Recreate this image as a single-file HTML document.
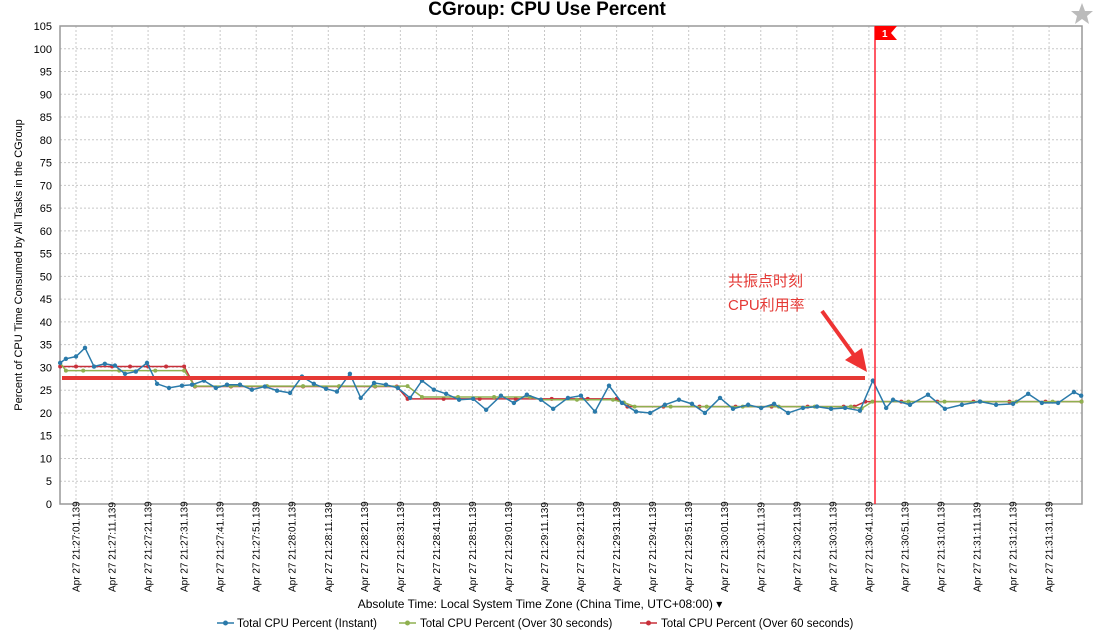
<!DOCTYPE html>
<html><head><meta charset="utf-8"><style>
body{margin:0;background:#fff;width:1098px;height:637px;overflow:hidden;font-family:"Liberation Sans","Noto Sans CJK SC",sans-serif}
</style></head><body>
<svg id="c" width="1098" height="637" xmlns="http://www.w3.org/2000/svg">
<text x="547" y="15" text-anchor="middle" font-size="19" font-weight="bold" font-family="Liberation Sans, sans-serif">CGroup: CPU Use Percent</text>
<polygon points="1082,3 1085,11 1093,11 1087,16 1089,24 1082,19 1075,24 1077,16 1071,11 1079,11" fill="#bbb"/>
<g id="grid"></g>
<rect x="60" y="26" width="1022" height="478" fill="none" stroke="#999" stroke-width="1.5"/>
<g id="yt"></g><g id="xt"></g><g id="series"></g>
<text transform="translate(22,265) rotate(-90)" text-anchor="middle" font-size="11">Percent of CPU Time Consumed by All Tasks in the CGroup</text>
<text x="540" y="608" text-anchor="middle" font-size="12">Absolute Time: Local System Time Zone (China Time, UTC+08:00) ▾</text>
<g font-size="11.5">
<g><line x1="217" y1="623" x2="234" y2="623" stroke="#2a7aaa" stroke-width="1.5"/><circle cx="225.5" cy="623" r="2.5" fill="#2a7aaa"/><text x="237" y="627">Total CPU Percent (Instant)</text></g>
<g><line x1="399" y1="623" x2="416" y2="623" stroke="#8fb050" stroke-width="1.5"/><circle cx="407.5" cy="623" r="2.5" fill="#8fb050"/><text x="420" y="627">Total CPU Percent (Over 30 seconds)</text></g>
<g><line x1="640" y1="623" x2="657" y2="623" stroke="#c8303a" stroke-width="1.5"/><circle cx="648.5" cy="623" r="2.5" fill="#c8303a"/><text x="661" y="627">Total CPU Percent (Over 60 seconds)</text></g>
</g>
<line x1="62" y1="378" x2="865" y2="378" stroke="#e53935" stroke-width="4"/>
<line x1="875" y1="26" x2="875" y2="504" stroke="#f23" stroke-width="1.5"/>
<polygon points="875,26 897,26 891,33 897,40 875,40" fill="#f00"/>
<text x="882" y="37" font-size="10" font-weight="bold" fill="#fff">1</text>
<line x1="822" y1="311" x2="856" y2="358" stroke="#ee3333" stroke-width="4"/>
<polygon points="867,372 845,360 862,348" fill="#ee3333"/>
<text x="728" y="286" font-size="15" fill="#e53935">共振点时刻</text>
<text x="728" y="310" font-size="15" fill="#e53935">CPU利用率</text>
</svg>
<script>
const yTicks=[0,5,10,15,20,25,30,35,40,45,50,55,60,65,70,75,80,85,90,95,100,105];
const xTickSec=[0,10,20,30,40,50,60,70,80,90,100,110,120,130,140,150,160,170,180,190,200,210,220,230,240,250,260,270];
const xTickLabels=["21:27:01","21:27:11","21:27:21","21:27:31","21:27:41","21:27:51","21:28:01","21:28:11","21:28:21","21:28:31","21:28:41","21:28:51","21:29:01","21:29:11","21:29:21","21:29:31","21:29:41","21:29:51","21:30:01","21:30:11","21:30:21","21:30:31","21:30:41","21:30:51","21:31:01","21:31:11","21:31:21","21:31:31"];
const instT=[-4.4,-2.8,0,2.5,5,8,10.8,13.6,16.6,19.7,22.5,25.8,29.4,32.2,35.5,38.8,41.9,45.5,48.8,52.4,55.8,59.4,62.7,66,69.4,72.4,76,79,82.7,86,89.3,92.7,96,99.3,102.7,106.3,110.2,113.8,117.9,121.5,125.1,129,132.4,136.5,140.1,144,147.9,151.5,155.4,159.3,163.4,167.3,170.9,174.5,178.7,182.3,186.5,190.1,193.7,197.6,201.7,205.6,209.5,213.4,217.5,221.1,224.8,226.7,231.4,236.4,241.1,245.8,250.8,255.3,260,264.2,268,272.5,276.9,278.9];
const instV=[31.0,31.9,32.4,34.3,30.2,30.8,30.4,28.6,29.1,31.0,26.4,25.5,26.0,26.2,27.1,25.5,26.2,26.2,25.1,25.8,24.9,24.4,28.0,26.4,25.3,24.7,28.6,23.3,26.6,26.2,25.5,23.3,27.1,25.1,24.2,22.9,23.1,20.7,23.8,22.2,24.0,22.9,20.9,23.3,23.8,20.3,26.0,22.2,20.3,20.0,21.8,22.9,22.0,20.0,23.3,20.9,21.8,21.1,22.0,20.0,21.1,21.4,20.9,21.1,20.5,27.1,21.1,22.9,21.8,24.0,20.9,21.8,22.5,21.8,22.0,24.2,22.2,22.2,24.6,23.8];
const g30T=[-4.4,-2.8,2,12,22,30,33,43,53,63,73,83,92,96,106,116,126,129,139,149,152,155,165,175,185,195,205,215,218,221,231,241,251,261,271,279];
const g30V=[31.0,29.3,29.3,29.3,29.3,29.3,25.9,25.9,25.9,25.9,25.9,25.9,25.9,23.5,23.5,23.5,23.5,22.9,22.9,22.9,22.3,21.4,21.4,21.4,21.4,21.4,21.4,21.4,21.0,22.5,22.5,22.5,22.5,22.5,22.5,22.5];
const r60T=[-4.4,0,5,10,15,20,25,30,33,43,53,63,73,83,89,92,102,112,122,132,142,150,153,163,173,183,193,203,213,216,219,229,239,249,259,269,279];
const r60V=[30.2,30.2,30.2,30.2,30.2,30.2,30.2,30.2,25.8,25.8,25.8,25.8,25.8,25.8,25.8,23.1,23.1,23.1,23.1,23.1,23.1,23.1,21.4,21.4,21.4,21.4,21.4,21.4,21.4,21.4,22.5,22.5,22.5,22.5,22.5,22.5,22.5];
const NS="http://www.w3.org/2000/svg";
const yS=v=>504-v*(478/105);
const xS=t=>76+t*3.604;
function mk(tag,at,parent){const e=document.createElementNS(NS,tag);for(const k in at)e.setAttribute(k,at[k]);parent.appendChild(e);return e;}
const grid=document.getElementById('grid'),yt=document.getElementById('yt'),xt=document.getElementById('xt'),se=document.getElementById('series');
yTicks.forEach(v=>{
 if(v>0&&v<105){const l=mk('line',{x1:60,x2:1082,y1:yS(v),y2:yS(v),stroke:'#c8c8c8','stroke-dasharray':'2,2'},grid);
 
 }
 const t=mk('text',{x:52,y:yS(v)+4,'text-anchor':'end','font-size':11},yt);t.textContent=v;
 
 
});
xTickSec.forEach((s,i)=>{
 const x=xS(s);
 const l=mk('line',{x1:x,x2:x,y1:26,y2:504,stroke:'#c8c8c8','stroke-dasharray':'2,2'},grid);
 
 
 const t=mk('text',{transform:`translate(${x+3.5},592) rotate(-90)`,'font-size':10},xt);
 t.textContent='Apr 27 '+xTickLabels[i]+'.139';
 
 
});
function series(T,V,col,name,r){
 const pl=mk('polyline',{points:T.map((t,i)=>xS(t)+','+yS(V[i])).join(' '),fill:'none',stroke:col,'stroke-width':1.5},se);
 
 
 T.forEach((t,i)=>{const c=mk('circle',{cx:xS(t),cy:yS(V[i]),r:r,fill:col},se);
 
 });
}
series(r60T,r60V,'#c8303a','series-60s',2);
series(g30T,g30V,'#8fb050','series-30s',2);
series(instT,instV,'#2a7aaa','series-instant',2.2);
</script>
</body></html>
